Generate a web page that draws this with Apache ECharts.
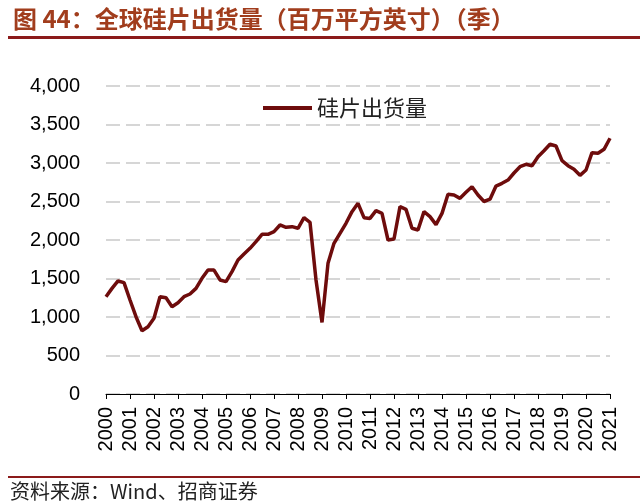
<!DOCTYPE html>
<html>
<head>
<meta charset="utf-8">
<script src="https://cdn.jsdelivr.net/npm/echarts@6/dist/echarts.min.js"></script>
<style>
  html, body { margin: 0; padding: 0; background: #fff; }
  #main { width: 640px; height: 504px; }
</style>
</head>
<body>
<div id="main"></div>
<script>
// 年份（每年四个季度，最后到2021年一季度）
var years = ['2000','2001','2002','2003','2004','2005','2006','2007','2008','2009','2010',
             '2011','2012','2013','2014','2015','2016','2017','2018','2019','2020','2021'];
var quarters = ['Q1','Q2','Q3','Q4'];

// 硅片出货量，百万平方英寸，按季度
var shipments = [
  1264, 1372, 1468, 1446,   // 2000
  1221, 1004,  822,  874,   // 2001
   983, 1264, 1250, 1134,   // 2002
  1186, 1264, 1299, 1372,   // 2003
  1502, 1610, 1610, 1481,   // 2004
  1459, 1589, 1740, 1818,   // 2005
  1892, 1978, 2074, 2074,   // 2006
  2108, 2195, 2165, 2173,   // 2007
  2152, 2290, 2230, 1481,   // 2008
   930, 1697, 1957, 2087,   // 2009
  2217, 2368, 2476, 2290,   // 2010
  2280, 2381, 2346, 2000,   // 2011
  2013, 2433, 2398, 2152,   // 2012
  2130, 2368, 2303, 2200,   // 2013
  2346, 2593, 2584, 2541,   // 2014
  2620, 2692, 2584, 2500,   // 2015
  2530, 2700, 2736, 2779,   // 2016
  2870, 2952, 2983, 2965,   // 2017
  3082, 3160, 3243, 3221,   // 2018
  3030, 2965, 2920, 2840,   // 2019
  2909, 3134, 3126, 3178,   // 2020
  3321                      // 2021
];

var categories = [];
for (var i = 0; i < years.length; i++) {
  for (var q = 0; q < quarters.length; q++) {
    if (categories.length < shipments.length) categories.push(years[i] + quarters[q]);
  }
}

var seriesName = '硅片出货量';
var lineColor = '#6e0c0c';

var myChart = echarts.init(document.getElementById('main'));
var option = {
  backgroundColor: '#fff',
  animation: false,
  title: {
    text: '图 44：全球硅片出货量（百万平方英寸）（季）',
    left: 8,
    top: 2,
    textStyle: {
      color: '#a13d1d',
      fontSize: 24,
      fontWeight: 'bold',
      fontFamily: 'Noto Sans CJK SC'
    }
  },
  graphic: [
    { type: 'rect', shape: { x: 8, y: 36, width: 632, height: 3 }, style: { fill: '#8b1a1a' } },
    { type: 'rect', shape: { x: 8, y: 476, width: 632, height: 2 }, style: { fill: '#8b1a1a' } },
    {
      type: 'text', left: 10, top: 481,
      style: { text: '资料来源：Wind、招商证券', fill: '#222', font: '20px "Noto Sans CJK SC"' }
    }
  ],
  legend: {
    data: [seriesName],
    left: 258,
    top: 92,
    icon: 'rect',
    itemWidth: 49,
    itemHeight: 4,
    itemGap: 10,
    textStyle: { fontSize: 22, color: '#222', fontFamily: 'Noto Sans CJK SC' }
  },
  grid: {
    left: 106,
    right: 30,
    top: 86,
    bottom: 110,
    containLabel: false
  },
  xAxis: {
    type: 'category',
    boundaryGap: false,
    data: categories,
    axisLine: { lineStyle: { color: '#000', width: 1 } },
    axisTick: { show: true, interval: 3, length: 5, lineStyle: { color: '#000' } },
    axisLabel: {
      interval: 3,
      rotate: 90,
      margin: 13,
      color: '#000',
      fontSize: 20,
      fontFamily: 'Liberation Sans',
      formatter: function (v) { return v.slice(0, 4); }
    },
    splitLine: { show: false }
  },
  yAxis: {
    type: 'value',
    min: 0,
    max: 4000,
    interval: 500,
    axisLine: { show: false },
    axisTick: { show: false },
    axisLabel: {
      margin: 26,
      color: '#000',
      fontSize: 20,
      fontFamily: 'Liberation Sans',
      formatter: function (v) { return v.toLocaleString('en-US'); }
    },
    splitLine: { lineStyle: { color: '#d6d6d6', width: 2, type: [14, 6] } }
  },
  series: [{
    name: seriesName,
    type: 'line',
    data: shipments,
    showSymbol: false,
    symbol: 'none',
    lineStyle: { color: lineColor, width: 3.5 },
    itemStyle: { color: lineColor }
  }]
};
myChart.setOption(option);
</script>
</body>
</html>
